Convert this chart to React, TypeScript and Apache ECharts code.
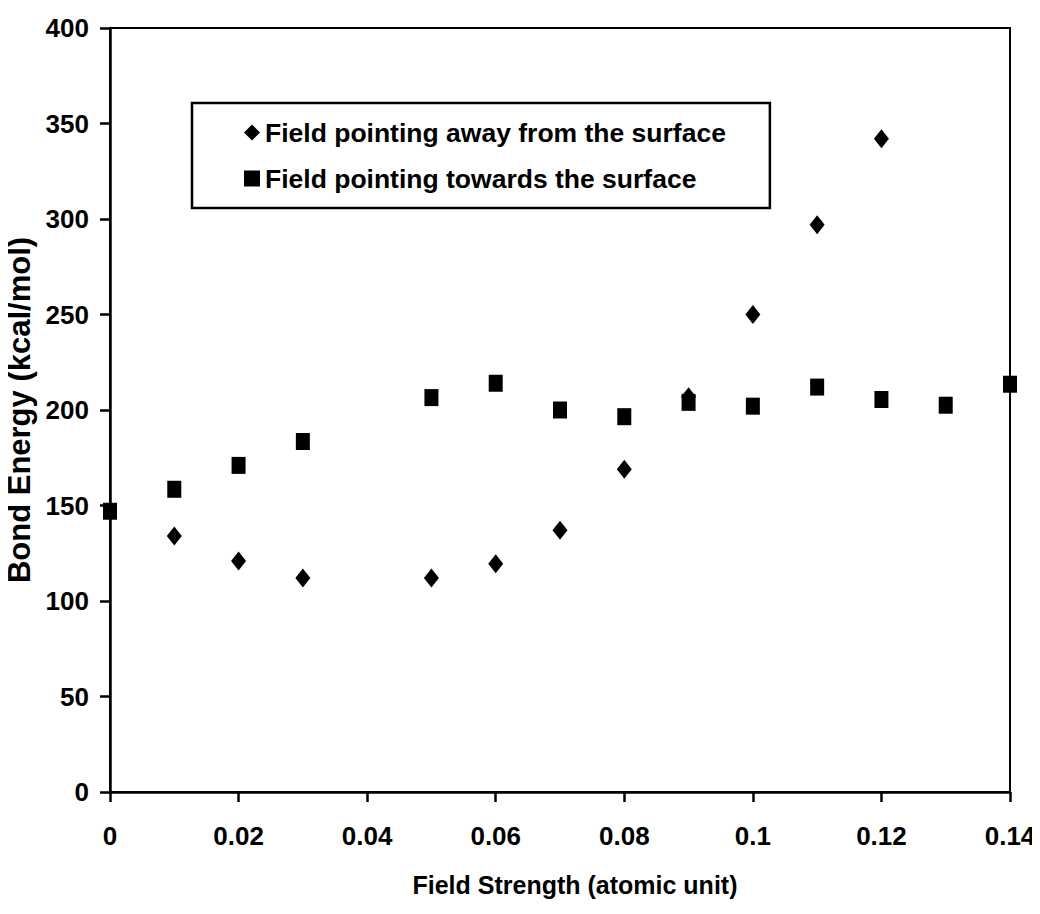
import React, { useEffect, useRef } from "react";
import * as echarts from "echarts";

// Field strength (atomic units) and bond energy (kcal/mol)
const awayX = [0.01, 0.02, 0.03, 0.05, 0.06, 0.07, 0.08, 0.09, 0.1, 0.11, 0.12];
const awayY = [134, 121, 112, 112, 119.5, 137, 169, 207, 250, 297, 342];

const towardsX = [0, 0.01, 0.02, 0.03, 0.05, 0.06, 0.07, 0.08, 0.09, 0.1, 0.11, 0.12, 0.13, 0.14];
const towardsY = [147, 158.5, 171, 183.5, 206.5, 214, 200, 196.5, 204, 202, 212, 205.5, 202.5, 213.5];

const xTickLabels = ["0", "0.02", "0.04", "0.06", "0.08", "0.1", "0.12", "0.14"];

const seriesNames = ["Field pointing away from the surface", "Field pointing towards the surface"];

const FONT = "'Liberation Sans', Arial, sans-serif";

export default function App() {
  const ref = useRef<HTMLDivElement>(null);

  useEffect(() => {
    if (!ref.current) return;
    const chart = echarts.init(ref.current, null, { renderer: "svg" });
    const pair = (xs: number[], ys: number[]) => xs.map((x, i) => [x, ys[i]]);

    chart.setOption({
      animation: false,
      backgroundColor: "#ffffff",
      grid: {
        left: 110,
        right: 30,
        top: 28,
        bottom: 122,
        outerBoundsMode: "none",
        show: true,
        borderColor: "#000",
        borderWidth: 2,
      },
      legend: {
        orient: "vertical",
        left: 192,
        top: 103,
        padding: [16, 44, 16, 52],
        itemGap: 19,
        itemWidth: 16,
        itemHeight: 16,
        borderColor: "#000",
        borderWidth: 2.5,
        backgroundColor: "#fff",
        textStyle: { fontFamily: FONT, fontWeight: "bold", fontSize: 26.5, color: "#000" },
        data: [
          { name: seriesNames[0], icon: "diamond" },
          { name: seriesNames[1], icon: "rect" },
        ],
      },
      xAxis: {
        type: "value",
        min: 0,
        max: 0.14,
        interval: 0.02,
        name: "Field Strength (atomic unit)",
        nameLocation: "middle",
        nameGap: 80,
        nameTextStyle: {
          fontFamily: FONT,
          fontWeight: "bold",
          fontSize: 25,
          color: "#000",
          padding: [0, 0, 0, 30],
        },
        axisLine: { lineStyle: { color: "#000", width: 2.5 } },
        axisTick: { show: true, length: 10, lineStyle: { color: "#000", width: 2.5 } },
        axisLabel: {
          fontFamily: FONT,
          fontWeight: "bold",
          fontSize: 26,
          color: "#000",
          margin: 31,
          formatter: (v: number) => xTickLabels[Math.round(v / 0.02)] ?? "",
        },
        splitLine: { show: false },
      },
      yAxis: {
        type: "value",
        min: 0,
        max: 400,
        interval: 50,
        name: "Bond Energy (kcal/mol)",
        nameLocation: "middle",
        nameGap: 73,
        nameTextStyle: { fontFamily: FONT, fontWeight: "bold", fontSize: 31, color: "#000" },
        axisLine: { lineStyle: { color: "#000", width: 2.5 } },
        axisTick: { show: true, length: 10, lineStyle: { color: "#000", width: 2.5 } },
        axisLabel: {
          fontFamily: FONT,
          fontWeight: "bold",
          fontSize: 26,
          color: "#000",
          margin: 21,
        },
        splitLine: { show: false },
      },
      series: [
        {
          name: seriesNames[0],
          type: "scatter",
          symbol: "diamond",
          symbolSize: [15, 19],
          itemStyle: { color: "#000", opacity: 1 },
          data: pair(awayX, awayY),
          z: 2,
        },
        {
          name: seriesNames[1],
          type: "scatter",
          symbol: "rect",
          symbolSize: [14, 17],
          itemStyle: { color: "#000", opacity: 1 },
          data: pair(towardsX, towardsY),
          z: 3,
        },
      ],
    });
    return () => chart.dispose();
  }, []);

  return <div ref={ref} style={{ width: 1040, height: 914, margin: -8 }} />;
}
